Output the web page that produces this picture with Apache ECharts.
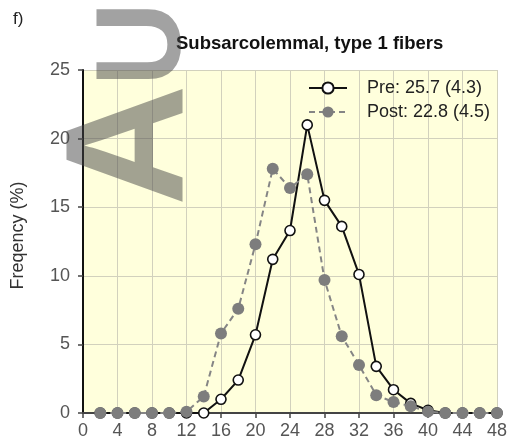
<!DOCTYPE html>
<html>
<head>
<meta charset="utf-8">
<script src="https://cdn.jsdelivr.net/npm/echarts@6/dist/echarts.min.js"></script>
<style>
  html, body { margin: 0; padding: 0; background: #ffffff; }
  #chart { width: 510px; height: 445px; }
</style>
</head>
<body>
<div id="chart"></div>
<script>
// Fiber size bins (upper bound of each bin)
const bins = [2, 4, 6, 8, 10, 12, 14, 16, 18, 20, 22, 24, 26, 28, 30, 32, 34, 36, 38, 40, 42, 44, 46, 48];
// Frequency (%) before training
const preValues = [0, 0, 0, 0, 0, 0, 0, 1.0, 2.4, 5.7, 11.2, 13.3, 21.0, 15.5, 13.6, 10.1, 3.4, 1.7, 0.7, 0.2, 0, 0, 0, 0];
// Frequency (%) after training
const postValues = [0, 0, 0, 0, 0, 0.1, 1.2, 5.8, 7.6, 12.3, 17.8, 16.4, 17.4, 9.7, 5.6, 3.5, 1.3, 0.8, 0.5, 0.1, 0, 0, 0, 0];
const seriesNames = ['Pre: 25.7 (4.3)', 'Post: 22.8 (4.5)'];
const xTicks = [0, 4, 8, 12, 16, 20, 24, 28, 32, 36, 40, 44, 48];
const yTicks = [0, 5, 10, 15, 20, 25];

const pairs = vals => bins.map((b, i) => [b, vals[i]]);
const FONT = 'Liberation Sans, Arial, sans-serif';

const chart = echarts.init(document.getElementById('chart'), null, { renderer: 'canvas' });
chart.setOption({
  animation: false,
  backgroundColor: '#ffffff',
  textStyle: { fontFamily: FONT },
  grid: {
    left: 83, right: 10, top: 70, bottom: 32,
    show: true, backgroundColor: '#ffffdc', borderWidth: 0
  },
  legend: {
    left: 303, top: 74, orient: 'vertical',
    itemWidth: 38, itemHeight: 14, itemGap: 6,
    textStyle: { fontSize: 18, color: '#222', fontFamily: FONT, padding: [0, 0, 0, 15] },
    data: seriesNames
  },
  xAxis: {
    type: 'value', min: xTicks[0], max: xTicks[xTicks.length - 1], interval: 4,
    axisLine: { show: true, onZero: false, lineStyle: { color: '#444', width: 2 } },
    axisTick: { show: true, length: 5, lineStyle: { color: '#444', width: 1.5 } },
    axisLabel: { color: '#555', fontSize: 18, margin: 9, fontFamily: FONT },
    splitLine: { show: true, lineStyle: { color: '#d2d1bd', width: 1 } }
  },
  yAxis: {
    type: 'value', min: yTicks[0], max: yTicks[yTicks.length - 1], interval: 5,
    name: 'Freqency (%)', nameLocation: 'middle', nameGap: 56, nameRotate: 90,
    nameTextStyle: { fontSize: 18, color: '#333', fontFamily: FONT, padding: [0, 0, 0, 12] },
    axisLine: { show: true, lineStyle: { color: '#111', width: 2 } },
    axisTick: { show: true, length: 5, lineStyle: { color: '#444', width: 1.5 } },
    axisLabel: { color: '#555', fontSize: 18, margin: 13, fontFamily: FONT },
    splitLine: { show: true, lineStyle: { color: '#d2d1bd', width: 1 } }
  },
  series: [
    {
      name: seriesNames[0], type: 'line', data: pairs(preValues),
      symbol: 'circle', symbolSize: 10, z: 3,
      lineStyle: { color: '#111', width: 2 },
      itemStyle: { color: '#ffffff', borderColor: '#111', borderWidth: 1.6 }
    },
    {
      name: seriesNames[1], type: 'line', data: pairs(postValues),
      symbol: 'circle', symbolSize: 12, z: 4,
      lineStyle: { color: '#858585', width: 2, type: [6, 4] },
      itemStyle: { color: '#7d7d7d', borderColor: '#7d7d7d', borderWidth: 0 }
    }
  ],
  graphic: [
    {
      type: 'text', left: 13, top: 11, z: 10,
      style: { text: 'f)', font: '17px ' + FONT, fill: '#222' }
    },
    {
      type: 'text', left: 176, top: 34, z: 10,
      style: { text: 'Subsarcolemmal, type 1 fibers', font: 'bold 18.5px ' + FONT, fill: '#111' }
    },
    // Watermark letters, rotated to read bottom-to-top
    {
      type: 'text', x: 221, y: 206, rotation: Math.PI / 2, z: 20,
      style: {
        text: 'A', font: 'bold 168px ' + FONT, fill: 'rgba(70,70,70,0.5)',
        textAlign: 'left', textVerticalAlign: 'bottom'
      }
    },
    {
      type: 'text', x: 207, y: 86, rotation: Math.PI / 2, scaleX: 0.69, scaleY: 0.72, z: 20,
      style: {
        text: 'U', font: 'bold 168px ' + FONT, fill: 'rgba(70,70,70,0.5)',
        textAlign: 'left', textVerticalAlign: 'bottom'
      }
    }
  ]
});
</script>
</body>
</html>
